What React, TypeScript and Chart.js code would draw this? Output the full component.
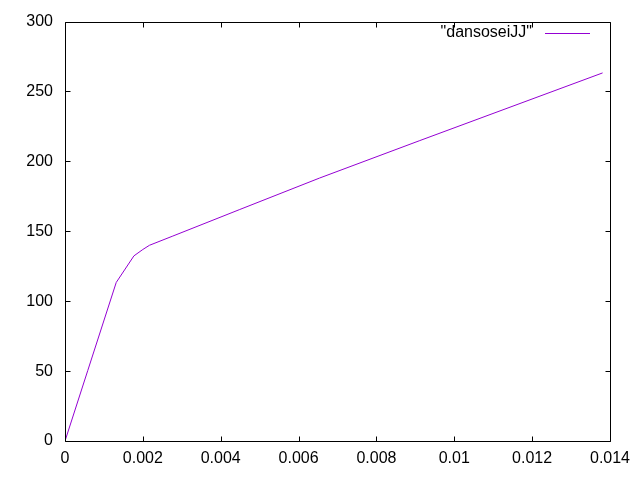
import React, { useEffect, useRef } from "react";
import { Chart, registerables } from "chart.js";

Chart.register(...registerables);

const seriesName = '"dansoseiJJ"';
const xValues = [0, 0.000586, 0.001316, 0.00177, 0.002, 0.00217, 0.00277, 0.00449, 0.00654, 0.009115, 0.01381];
const yValues = [0, 50.5, 113.4, 132.4, 137, 140, 146.6, 165.6, 188.1, 214.9, 263.3];
const xTicks = [0, 0.002, 0.004, 0.006, 0.008, 0.01, 0.012, 0.014];
const yTicks = [0, 50, 100, 150, 200, 250, 300];

const LINE_COLOR = "#9400D3";
const FONT = '"Liberation Sans", Arial, sans-serif';

const framePlugin = {
  id: "gnuframe",
  afterDraw(chart: any) {
    const ctx = chart.ctx;
    const { left, right, top, bottom } = chart.chartArea;
    const L = Math.round(left) + 0.5;
    const R = Math.round(right) + 0.5;
    const T = Math.round(top) + 0.5;
    const B = Math.round(bottom) + 0.5;
    const tl = 5;
    ctx.save();
    ctx.strokeStyle = "#000";
    ctx.lineWidth = 1;
    ctx.beginPath();
    ctx.rect(L, T, R - L, B - T);
    const xs = chart.scales.x;
    const ys = chart.scales.y;
    for (const v of xTicks) {
      const px = Math.round(xs.getPixelForValue(v)) + 0.5;
      ctx.moveTo(px, B);
      ctx.lineTo(px, B - tl);
      ctx.moveTo(px, T);
      ctx.lineTo(px, T + tl);
    }
    for (const v of yTicks) {
      const py = Math.round(ys.getPixelForValue(v)) + 0.5;
      ctx.moveTo(L, py);
      ctx.lineTo(L + tl, py);
      ctx.moveTo(R, py);
      ctx.lineTo(R - tl, py);
    }
    ctx.stroke();

    // legend
    ctx.font = `16px ${FONT}`;
    ctx.fillStyle = "#000";
    ctx.textAlign = "right";
    ctx.textBaseline = "middle";
    ctx.fillText(seriesName, 532, 33);
    ctx.strokeStyle = LINE_COLOR;
    ctx.beginPath();
    ctx.moveTo(545, 33.5);
    ctx.lineTo(590, 33.5);
    ctx.stroke();
    ctx.restore();
  },
};

export default function App() {
  const ref = useRef<HTMLCanvasElement>(null);
  useEffect(() => {
    if (!ref.current) return;
    const data = xValues.map((x, i) => ({ x, y: yValues[i] }));
    const chart = new Chart(ref.current, {
      type: "line",
      data: {
        datasets: [
          {
            label: seriesName,
            data,
            borderColor: LINE_COLOR,
            borderWidth: 1,
            pointRadius: 0,
            tension: 0,
            fill: false,
          },
        ],
      },
      options: {
        responsive: false,
        animation: false,
        layout: { padding: { top: 19, right: 30, left: 0, bottom: 0 } },
        plugins: { legend: { display: false }, tooltip: { enabled: false } },
        scales: {
          x: {
            type: "linear",
            min: 0,
            max: 0.014,
            afterBuildTicks: (s: any) => {
              s.ticks = xTicks.map((v) => ({ value: v }));
            },
            afterFit: (s: any) => {
              s.height = 39;
            },
            grid: { display: false, drawTicks: false },
            border: { display: false },
            ticks: {
              padding: 8,
              color: "#000",
              font: { size: 16, family: FONT },
              maxRotation: 0,
              autoSkip: false,
              callback: (v: any) => String(Number(v)),
            },
          },
          y: {
            type: "linear",
            min: 0,
            max: 300,
            afterBuildTicks: (s: any) => {
              s.ticks = yTicks.map((v) => ({ value: v }));
            },
            afterFit: (s: any) => {
              s.width = 65;
            },
            grid: { display: false, drawTicks: false },
            border: { display: false },
            ticks: {
              padding: 12,
              color: "#000",
              font: { size: 16, family: FONT },
              autoSkip: false,
              callback: (v: any) => String(v),
            },
          },
        },
      },
      plugins: [framePlugin],
    });
    return () => chart.destroy();
  }, []);
  return (
    <canvas
      ref={ref}
      width={640}
      height={480}
      style={{ position: "absolute", left: 0, top: 0, width: 640, height: 480, background: "#fff" }}
    />
  );
}
